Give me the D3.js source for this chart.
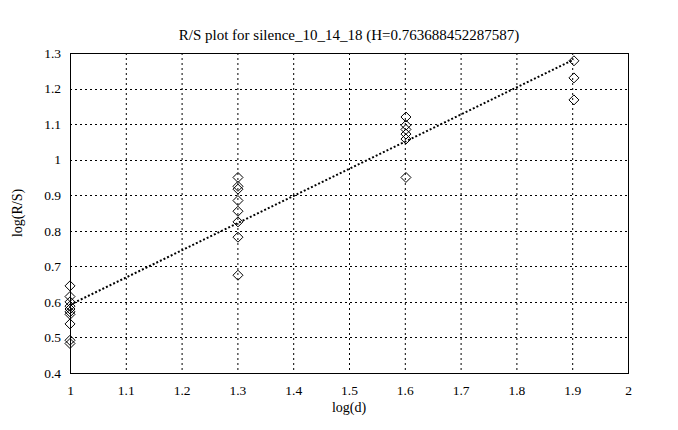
<!DOCTYPE html>
<html><head><meta charset="utf-8">
<script src="https://cdn.jsdelivr.net/npm/d3@7"></script>
<style>body{margin:0;background:#fff}svg{display:block}text{font-family:"Liberation Serif","Times New Roman",serif;fill:#000}</style>
</head><body>
<svg id="c" width="678" height="430"></svg>
<script>
const title = "R/S plot for silence_10_14_18 (H=0.763688452287587)";
const xLabel = "log(d)";
const yLabel = "log(R/S)";
const xTicks = [1,1.1,1.2,1.3,1.4,1.5,1.6,1.7,1.8,1.9,2];
const yTicks = [0.4,0.5,0.6,0.7,0.8,0.9,1,1.1,1.2,1.3];
const logD = [1, 1.30103, 1.60206, 1.90309];
const logRS = [
  [0.645, 0.615, 0.60, 0.588, 0.58, 0.572, 0.565, 0.538, 0.492, 0.483],
  [0.95, 0.925, 0.917, 0.885, 0.855, 0.825, 0.782, 0.675],
  [1.12, 1.097, 1.085, 1.072, 1.058, 0.95],
  [1.278, 1.23, 1.168]
];
const H = 0.763688452287587;
const fitIntercept = 0.592 - H * 1;

const svg = d3.select("#c");
const L = 70, R = 628, T = 53, B = 373;
const x = d3.scaleLinear().domain([1,2]).range([L,R]);
const y = d3.scaleLinear().domain([0.4,1.3]).range([B,T]);

// grid
svg.append("g").selectAll("line").data(xTicks.slice(1,-1)).join("line")
  .attr("x1",d=>x(d)+0.5).attr("x2",d=>x(d)+0.5).attr("y1",T).attr("y2",B)
  .attr("stroke","#000").attr("stroke-width",1).attr("stroke-dasharray","2,3");
svg.append("g").selectAll("line").data(yTicks.slice(1,-1)).join("line")
  .attr("y1",d=>Math.round(y(d))+0.5).attr("y2",d=>Math.round(y(d))+0.5).attr("x1",L).attr("x2",R)
  .attr("stroke","#000").attr("stroke-width",1).attr("stroke-dasharray","2,3");

// axes
const xa = svg.append("g").attr("transform",`translate(0,${B})`)
  .call(d3.axisBottom(x).tickValues(xTicks).tickFormat(d3.format("")).tickSize(0).tickPadding(12));
const ya = svg.append("g").attr("transform",`translate(${L},0)`)
  .call(d3.axisLeft(y).tickValues(yTicks).tickFormat(d3.format("")).tickSize(0).tickPadding(9));
[xa,ya].forEach(g=>{g.select(".domain").remove();g.selectAll("text").attr("font-size",13.5).attr("font-family","Liberation Serif");});

// frame
svg.append("rect").attr("x",L+0.5).attr("y",T+0.5).attr("width",R-L).attr("height",B-T)
  .attr("fill","none").attr("stroke","#000").attr("stroke-width",1);

// fit line
const line = d3.line().x(d=>x(d)).y(d=>y(fitIntercept + H*d));
svg.append("path").datum([logD[0], logD[logD.length-1]]).attr("d",line)
  .attr("fill","none").attr("stroke","#000").attr("stroke-width",2).attr("stroke-dasharray","2,2");

// points
const pts = [];
logD.forEach((d,i)=>logRS[i].forEach(v=>pts.push([d,v])));
const s = 5;
svg.append("g").selectAll("path").data(pts).join("path")
  .attr("d",d=>{const cx=x(d[0]),cy=y(d[1]);return `M${cx},${cy-s}L${cx+s},${cy}L${cx},${cy+s}L${cx-s},${cy}Z`;})
  .attr("fill","none").attr("stroke","#000").attr("stroke-width",1);

// labels
svg.append("text").attr("x",(L+R)/2).attr("y",40).attr("text-anchor","middle").attr("font-size",15).text(title);
svg.append("text").attr("x",(L+R)/2).attr("y",412).attr("text-anchor","middle").attr("font-size",14).text(xLabel);
svg.append("text").attr("transform",`translate(22,${(T+B)/2}) rotate(-90)`).attr("text-anchor","middle").attr("font-size",14).text(yLabel);
</script>
</body></html>
